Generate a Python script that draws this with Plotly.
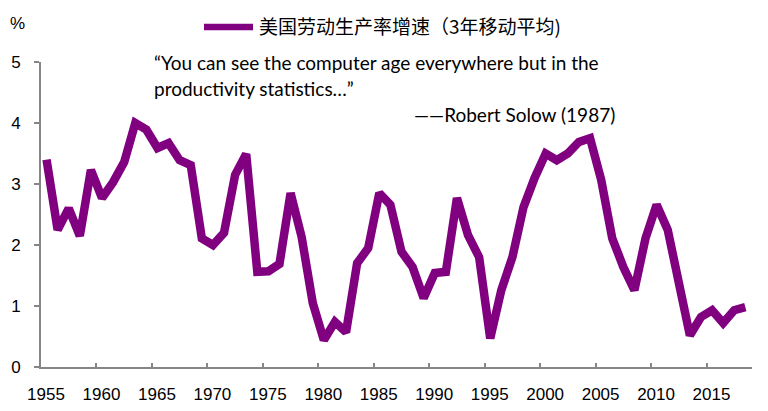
import plotly.graph_objects as go

years = list(range(1955, 2019))
growth = [3.40, 2.25, 2.60, 2.15, 3.23, 2.77, 3.03, 3.36, 4.00, 3.89,
          3.59, 3.67, 3.39, 3.31, 2.11, 2.00, 2.20, 3.15, 3.49, 1.56,
          1.57, 1.69, 2.85, 2.13, 1.05, 0.44, 0.74, 0.57, 1.70, 1.95,
          2.85, 2.66, 1.89, 1.64, 1.13, 1.54, 1.56, 2.77, 2.16, 1.80,
          0.47, 1.26, 1.80, 2.62, 3.10, 3.50, 3.39, 3.50, 3.69, 3.75,
          3.07, 2.11, 1.64, 1.26, 2.11, 2.66, 2.25, 1.30, 0.52, 0.82,
          0.93, 0.72, 0.93, 0.98]
series_name = "美国劳动生产率增速（3年移动平均)"
xtick_years = list(range(1955, 2020, 5))
quote_lines = ["“You can see the computer age everywhere but in the",
               "productivity statistics…”"]
attribution = "——Robert Solow (1987)"

PURPLE = "#800080"
AXIS = "#868686"
L, R, T, B = 41, 16, 62, 44
W, H = 768, 411
pw, ph = W - L - R, H - T - B

def px(xp):
    return (xp - L) / pw

def py(yp):
    return (H - B - yp) / ph

fig = go.Figure()
fig.add_trace(go.Scatter(x=years, y=growth, mode="lines", name=series_name,
                         line=dict(color=PURPLE, width=8.5), showlegend=False))

fig.update_layout(
    width=W, height=H,
    margin=dict(l=L, r=R, t=T, b=B),
    paper_bgcolor="white", plot_bgcolor="white",
    font=dict(family="Liberation Sans, Arial", size=17, color="#000000"),
    xaxis=dict(range=[1954.5, 2018.6], showgrid=False, zeroline=False,
               showline=True, linecolor=AXIS, linewidth=2, automargin=False,
               tickmode="array", tickvals=[y - 0.5 for y in xtick_years],
               ticktext=[str(y) for y in xtick_years],
               ticks="inside", ticklen=4, tickcolor=AXIS, tickwidth=2,
               ticklabelshift=5, ticklabelstandoff=11, tickfont=dict(size=17)),
    yaxis=dict(range=[0, 5], showgrid=False, zeroline=False,
               showline=True, linecolor=AXIS, linewidth=2, automargin=False,
               tickvals=[0, 1, 2, 3, 4, 5],
               ticks="outside", ticklen=5, tickcolor=AXIS, tickwidth=2,
               ticklabelstandoff=10, tickfont=dict(size=17)),
)

# legend (manual)
fig.add_shape(type="line", xref="paper", yref="paper",
              x0=px(204), x1=px(253), y0=py(27), y1=py(27),
              line=dict(color=PURPLE, width=6.5))
fig.add_annotation(xref="paper", yref="paper", x=px(257), y=py(26),
                   xanchor="left", yanchor="middle", showarrow=False,
                   text=series_name,
                   font=dict(family="Noto Sans CJK SC", size=19, color="#000"))
# unit
fig.add_annotation(xref="paper", yref="paper", x=px(17), y=py(23),
                   xanchor="center", yanchor="middle", showarrow=False,
                   text="%", font=dict(size=17))
# quote
fig.add_annotation(xref="paper", yref="paper", x=px(152), y=py(62),
                   xanchor="left", yanchor="middle", showarrow=False,
                   text=quote_lines[0], font=dict(family="Lato", size=19))
fig.add_annotation(xref="paper", yref="paper", x=px(152), y=py(88),
                   xanchor="left", yanchor="middle", showarrow=False,
                   text=quote_lines[1], font=dict(family="Lato", size=19))
fig.add_annotation(xref="paper", yref="paper", x=px(617), y=py(114),
                   xanchor="right", yanchor="middle", showarrow=False,
                   text=attribution, font=dict(family="Lato", size=19))

fig.write_html("out.html")
